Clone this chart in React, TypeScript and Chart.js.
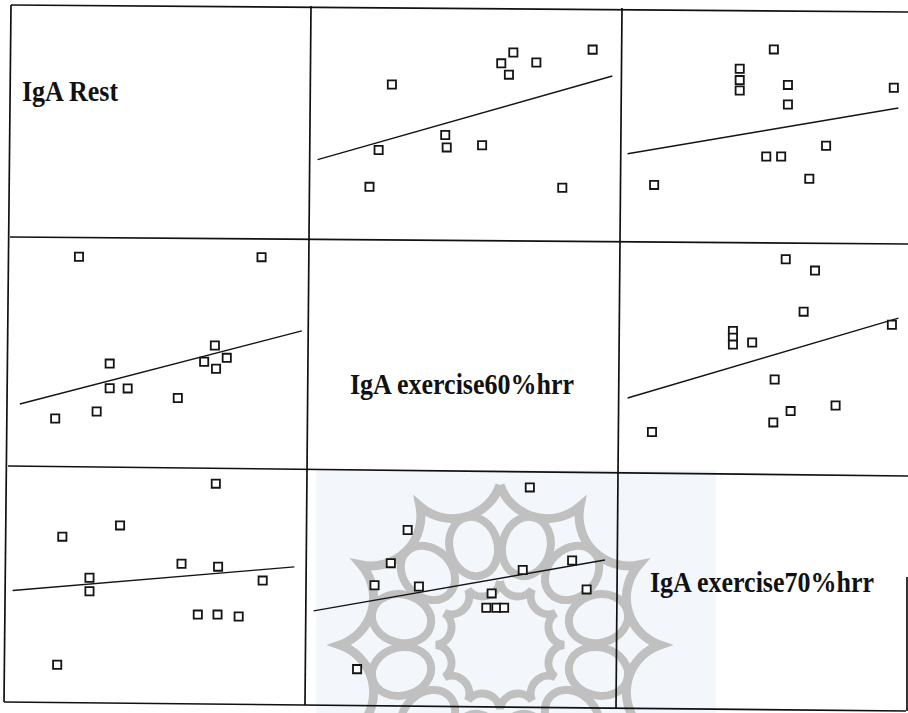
import React, { useEffect, useRef } from "react";
import { Chart, registerables } from "chart.js";

Chart.register(...registerables);

// Variable labels (diagonal of the matrix)
const varLabels = ["IgA Rest", "IgA exercise60%hrr", "IgA exercise70%hrr"];

// Panel row 0, col 1 : y = Rest, x = exercise60
const p01x = [25.2, 20.7, 17.6, 43.3, 43.8, 55.8, 62.3, 64.9, 66.4, 74.2, 83.0, 93.3];
const p01y = [67.0, 36.9, 20.0, 43.8, 38.1, 39.1, 76.7, 71.5, 81.7, 77.1, 19.6, 83.0];
const p01fitX = [0, 100];
const p01fitY = [32.5, 70.9];

// Panel row 0, col 2 : y = Rest, x = exercise70
const p02x = [54.0, 41.4, 41.4, 41.4, 59.2, 59.2, 98.3, 73.3, 51.2, 56.7, 67.1, 9.8];
const p02y = [83.1, 74.2, 69.0, 64.2, 66.8, 57.8, 65.5, 38.9, 33.9, 33.9, 23.7, 20.9];
const p02fitX = [0, 100];
const p02fitY = [35.2, 56.2];

// Panel row 1, col 0 : y = exercise60, x = Rest
const p10x = [22.9, 85.9, 69.8, 66.1, 73.9, 70.2, 33.5, 33.5, 39.7, 57.0, 29.0, 14.7];
const p10y = [94.8, 94.6, 53.3, 45.7, 47.5, 42.4, 44.8, 33.3, 33.2, 28.7, 22.4, 19.1];
const p10fitX = [2.5, 99.8];
const p10fitY = [25.9, 60.1];

// Panel row 1, col 2 : y = exercise60, x = exercise70
const p12x = [58.4, 69.2, 65.0, 38.9, 38.9, 38.9, 46.0, 97.6, 54.3, 76.8, 60.2, 53.8, 9.0];
const p12y = [93.6, 88.3, 69.1, 60.1, 56.9, 53.7, 54.7, 63.0, 37.4, 25.2, 22.6, 17.3, 12.8];
const p12fitX = [0, 100];
const p12fitY = [28.7, 66.1];

// Panel row 2, col 0 : y = exercise70, x = Rest
const p20x = [71.1, 37.6, 17.4, 59.1, 71.9, 87.5, 26.9, 26.9, 64.8, 71.7, 79.1, 15.6];
const p20y = [95.9, 77.0, 71.9, 59.6, 58.3, 52.0, 53.3, 47.2, 36.6, 36.6, 35.7, 13.9];
const p20fitX = [0, 98.6];
const p20fitY = [47.5, 58.2];

// Panel row 2, col 1 : y = exercise70, x = exercise60
const p21x = [73.1, 31.8, 26.1, 20.6, 35.6, 60.2, 58.4, 61.8, 64.4, 70.7, 87.4, 92.3, 14.7];
const p21y = [94.2, 74.9, 59.9, 49.9, 49.3, 46.2, 39.7, 39.7, 39.7, 56.8, 61.1, 48.0, 11.9];
const p21fitX = [0, 98.5];
const p21fitY = [38.3, 61.3];

type Rect = { left: number; top: number; width: number; height: number };

function Panel(props: { rect: Rect; xs: number[]; ys: number[]; fitX: number[]; fitY: number[] }) {
  const ref = useRef<HTMLCanvasElement | null>(null);
  const { rect, xs, ys, fitX, fitY } = props;
  useEffect(() => {
    if (!ref.current) return;
    const chart = new Chart(ref.current, {
      type: "scatter",
      data: {
        datasets: [
          {
            data: xs.map((x, i) => ({ x, y: ys[i] })),
            pointStyle: "rect",
            pointRadius: 5.8,
            borderColor: "#141414",
            backgroundColor: "#ffffff",
            borderWidth: 1.8,
            clip: false,
          } as any,
          {
            data: fitX.map((x, i) => ({ x, y: fitY[i] })),
            showLine: true,
            pointRadius: 0,
            borderColor: "#141414",
            borderWidth: 1.4,
            fill: false,
            clip: false,
          } as any,
        ],
      },
      options: {
        animation: false,
        responsive: false,
        events: [],
        layout: { padding: 0 },
        plugins: { legend: { display: false }, tooltip: { enabled: false } },
        scales: {
          x: { type: "linear", display: false, min: 0, max: 100 },
          y: { type: "linear", display: false, min: 0, max: 100 },
        },
      },
    });
    return () => chart.destroy();
  }, []);
  return (
    <canvas
      ref={ref}
      width={rect.width}
      height={rect.height}
      style={{ position: "absolute", left: rect.left, top: rect.top, width: rect.width, height: rect.height }}
    />
  );
}

function Ornament() {
  const cx = 500;
  const cy = 645;
  const parts: React.ReactNode[] = [];
  const n = 12;
  const R = 160;
  let d = "";
  for (let i = 0; i <= n; i++) {
    const a = -Math.PI / 2 + (i * 2 * Math.PI) / n;
    const px = cx + R * Math.cos(a);
    const py = cy + R * Math.sin(a);
    if (i === 0) d += `M ${px.toFixed(1)} ${py.toFixed(1)} `;
    else d += `A 50 50 0 0 0 ${px.toFixed(1)} ${py.toFixed(1)} `;
  }
  parts.push(<path key="outer" d={d} fill="none" stroke="#c0c0c0" strokeWidth={9} />);
  for (let i = 0; i < n; i++) {
    const a = -Math.PI / 2 + ((i + 0.5) * 2 * Math.PI) / n;
    parts.push(
      <ellipse
        key={"c" + i}
        cx={cx + 102 * Math.cos(a)}
        cy={cy + 102 * Math.sin(a)}
        rx={24}
        ry={30}
        transform={`rotate(${((a * 180) / Math.PI + 90).toFixed(1)} ${(cx + 102 * Math.cos(a)).toFixed(1)} ${(cy + 102 * Math.sin(a)).toFixed(1)})`}
        fill="none"
        stroke="#c0c0c0"
        strokeWidth={8}
      />
    );
  }
  let d2 = "";
  for (let i = 0; i <= n; i++) {
    const a = -Math.PI / 2 + (i * 2 * Math.PI) / n;
    const px = cx + 64 * Math.cos(a);
    const py = cy + 64 * Math.sin(a);
    if (i === 0) d2 += `M ${px.toFixed(1)} ${py.toFixed(1)} `;
    else d2 += `A 18 18 0 0 0 ${px.toFixed(1)} ${py.toFixed(1)} `;
  }
  parts.push(<path key="inner" d={d2} fill="none" stroke="#c0c0c0" strokeWidth={8} />);
  return (
    <svg width={908} height={713} style={{ position: "absolute", left: 0, top: 0 }}>
      <defs>
        <clipPath id="wm">
          <rect x={316} y={470} width={400} height={243} />
        </clipPath>
      </defs>
      <rect x={316} y={470} width={400} height={243} fill="#f3f7fb" />
      <g clipPath="url(#wm)">{parts}</g>
    </svg>
  );
}

function Frame() {
  const segs: number[][] = [
    [11, 5, 908, 12],
    [10, 237, 908, 244],
    [8, 466, 908, 476],
    [4, 702, 906, 711],
    [11, 5, 4, 702],
    [311, 6, 305, 705],
    [622, 8, 616, 709],
    [907, 577, 907, 711],
  ];
  return (
    <svg width={908} height={713} style={{ position: "absolute", left: 0, top: 0, pointerEvents: "none" }}>
      {segs.map((s, i) => (
        <line key={i} x1={s[0]} y1={s[1]} x2={s[2]} y2={s[3]} stroke="#111" strokeWidth={1.7} />
      ))}
    </svg>
  );
}

function Label(props: { text: string; left: number; top: number }) {
  return (
    <div
      style={{
        position: "absolute",
        left: props.left,
        top: props.top,
        fontFamily: "'Liberation Serif', 'Times New Roman', serif",
        fontWeight: "bold",
        fontSize: 26,
        lineHeight: "26px",
        whiteSpace: "pre",
        color: "#111",
        transform: "scaleY(1.17)",
        transformOrigin: "0 21.8px",
      }}
    >
      {props.text}
    </div>
  );
}

export default function App() {
  return (
    <div
      style={{
        position: "fixed",
        left: 0,
        top: 0,
        width: 908,
        height: 713,
        overflow: "hidden",
        background: "#ffffff",
      }}
    >
      <Ornament />
      <Panel rect={{ left: 310, top: 5, width: 310, height: 233 }} xs={p01x} ys={p01y} fitX={p01fitX} fitY={p01fitY} />
      <Panel rect={{ left: 620, top: 5, width: 286, height: 233 }} xs={p02x} ys={p02y} fitX={p02fitX} fitY={p02fitY} />
      <Panel rect={{ left: 5, top: 238, width: 305, height: 229 }} xs={p10x} ys={p10y} fitX={p10fitX} fitY={p10fitY} />
      <Panel rect={{ left: 620, top: 238, width: 286, height: 229 }} xs={p12x} ys={p12y} fitX={p12fitX} fitY={p12fitY} />
      <Panel rect={{ left: 5, top: 467, width: 301, height: 236 }} xs={p20x} ys={p20y} fitX={p20fitX} fitY={p20fitY} />
      <Panel rect={{ left: 306, top: 467, width: 311, height: 236 }} xs={p21x} ys={p21y} fitX={p21fitX} fitY={p21fitY} />
      <Label text={varLabels[0]} left={22} top={80} />
      <Label text={varLabels[1]} left={350} top={373} />
      <Label text={varLabels[2]} left={650} top={571} />
      <Frame />
    </div>
  );
}
